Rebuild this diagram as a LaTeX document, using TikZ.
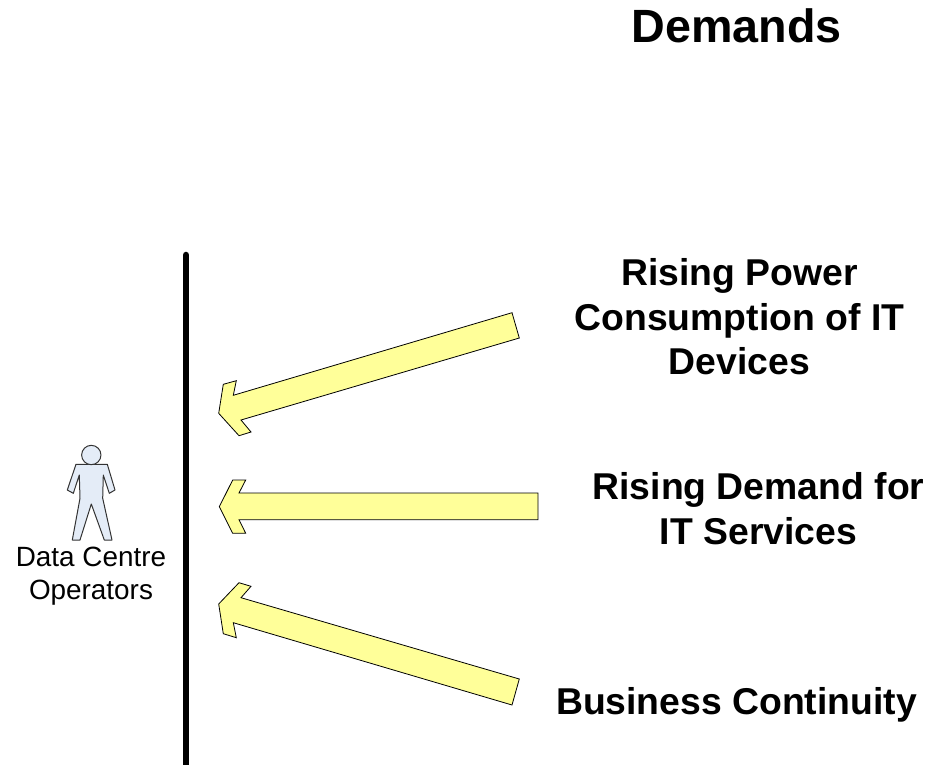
\documentclass[tikz,border=0pt]{standalone}
\usepackage{fontspec}
\setmainfont{Liberation Sans}
\tikzset{
	heading/.style={align=center,inner sep=0pt,font=\bfseries\fontsize{35}{41}\selectfont},
	demand/.style={align=center,inner sep=0pt,font=\bfseries\fontsize{28}{33.4}\selectfont},
	actor/.style={align=center,inner sep=0pt,font=\fontsize{20.9}{24.75}\selectfont},
	flow/.style={draw=black,line width=.6pt,line join=miter,fill=flowyellow},
	person/.style={draw=black!80,line width=.75pt,line join=round,fill=personblue},
	wall/.style={line width=4.9pt,line cap=round}
}
\definecolor{flowyellow}{HTML}{FFFF99}
\definecolor{personblue}{HTML}{E4ECF7}

\begin{document}
\begin{tikzpicture}[x=.75pt,y=-.75pt]
	\useasboundingbox (0,0) rectangle (942,764);
	\node[heading] (title) at (736.5,26) {Demands};
	\node[demand] (power) at (739.5,317) {Rising Power\\Consumption of IT\\Devices};
	\node[demand] (services) at (758.5,508.5) {Rising Demand for\\IT Services};
	\node[demand] (continuity) at (736.5,704.5) {Business Continuity};
	\node[actor] (operators) at (91,576.5) {Data Centre\\Operators};
	\coordinate (walltop) at (186,255);
	\coordinate (wallend) at (186,775);
	\draw[wall] (walltop) -- (wallend);
	% the three arrows
	\draw[flow] (512,312.7) -- (519.3,338) -- (241,420) -- (251,432) -- (239,435.7) -- (218.7,413.3) -- (223.3,384.3) -- (236.3,380.7) -- (233.3,395.3) -- cycle;
	\draw[flow] (538,493) -- (538,519.7) -- (239,519.7) -- (245.7,533.3) -- (232.7,533.3) -- (219.3,506.7) -- (232.7,480) -- (245.7,480) -- (239,493) -- cycle;
	\draw[flow] (519.3,679) -- (512,705) -- (233.3,622.7) -- (236.3,637.7) -- (223.3,633.7) -- (218.7,604) -- (239,582.7) -- (251,586.3) -- (241,597.7) -- cycle;
	% person
	\draw[person] (76,464.3) -- (107.3,464.3) -- (115,490) -- (109.3,493.3) -- (103.3,475) -- (102.7,498.3) -- (112,540) -- (104.3,540) -- (91.3,504) -- (80,540) -- (72.3,540) -- (80,498.3) -- (79.3,475) -- (73.3,493.3) -- (67.3,490) -- cycle;
	\node[person,circle,inner sep=0pt,minimum size=14.5pt] (head) at (91.3,455) {};
\end{tikzpicture}
\end{document}
